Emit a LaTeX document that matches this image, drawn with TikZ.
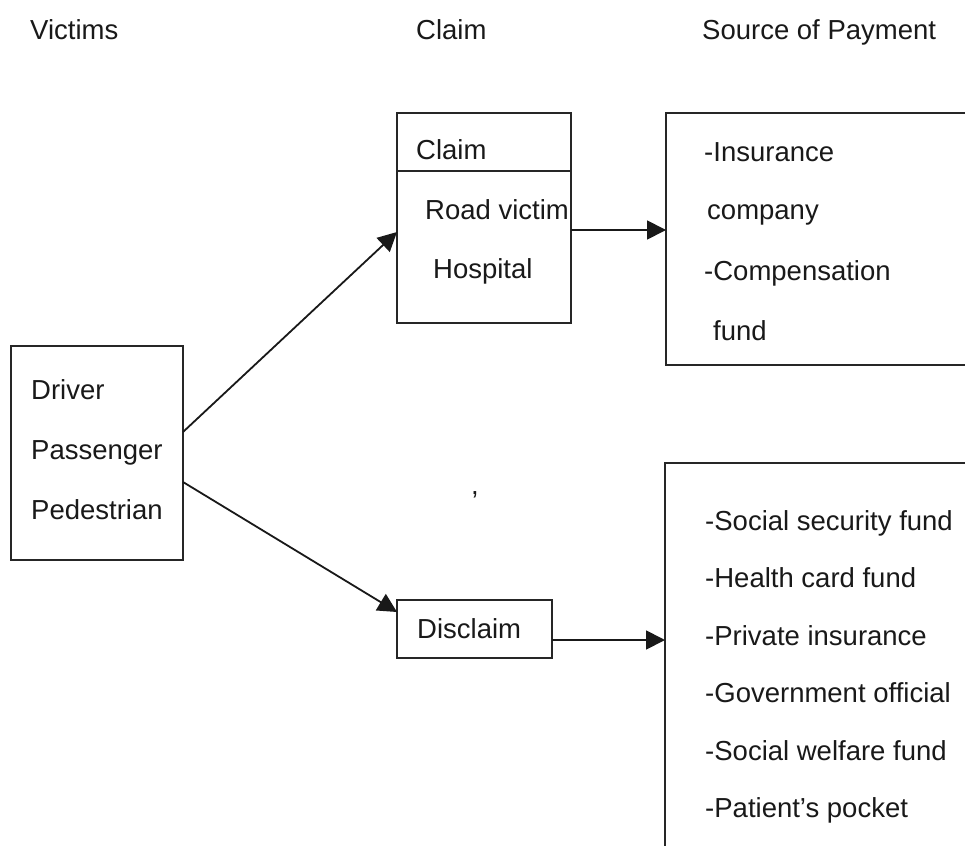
\documentclass[tikz,border=0pt]{standalone}
\usepackage{fontspec}
\setmainfont{Liberation Sans}
\usetikzlibrary{arrows.meta}

\begin{document}
\begin{tikzpicture}[x=1pt,y=-1pt,
    box/.style={draw=black!85,line width=1.4pt,inner sep=0pt,outer sep=0pt},
    txt/.style={anchor=base west,inner sep=0pt,text=black!90,font=\fontsize{27.5}{33}\selectfont},
    arr/.style={draw=black!90,line width=1.8pt,-{Triangle[length=19pt,width=19pt]}}]
  \useasboundingbox (0,0) rectangle (965,845);
  \clip (0,0) rectangle (965,845);
  \fill[white] (0,0) rectangle (965,845);

  \node[txt] (hvictims) at (30,40) {Victims};
  \node[txt] (hclaim) at (416,40) {Claim};
  \node[txt] (hsource) at (702,40) {Source of Payment};

  \node[box,minimum width=172pt,minimum height=214pt] (victims) at (97,453) {};
  \node[txt] (driver) at (31,399) {Driver};
  \node[txt] (passenger) at (31,459) {Passenger};
  \node[txt] (pedestrian) at (31,519) {Pedestrian};

  \node[box,minimum width=174pt,minimum height=210pt] (claimbox) at (484,218) {};
  \draw[box] (claimbox.west |- 0,171) -- (claimbox.east |- 0,171);
  \node[txt] (claimlabel) at (416,160) {Claim};
  \node[txt] (roadvictim) at (425,219) {Road victim};
  \node[txt] (hospital) at (433,278) {Hospital};

  \node[box,minimum width=155pt,minimum height=58pt] (disclaim) at (474.5,629) {};
  \node[txt] (disclaimlabel) at (417,638) {Disclaim};

  \node[box,minimum width=320pt,minimum height=252pt] (paytop) at (826,239) {};
  \node[txt] (insurance) at (704,161) {-Insurance};
  \node[txt] (company) at (707,219) {company};
  \node[txt] (compensation) at (704,280) {-Compensation};
  \node[txt] (fund) at (713,340) {fund};

  \node[box,minimum width=320pt,minimum height=407pt] (paybot) at (825,666.5) {};
  \node[txt] (social) at (705,530) {-Social security fund};
  \node[txt] (health) at (705,587) {-Health card fund};
  \node[txt] (private) at (705,645) {-Private insurance};
  \node[txt] (government) at (705,702) {-Government official};
  \node[txt] (welfare) at (705,760) {-Social welfare fund};
  \node[txt] (pocket) at (705,817) {-Patient's pocket};

  \node[txt] (speck) at (471,494) {,};

  \draw[arr] ([yshift=21pt]victims.east) -- ([yshift=-14pt]claimbox.west);
  \draw[arr] ([yshift=-29pt]victims.east) -- ([yshift=17pt]disclaim.west);
  \draw[arr] ([yshift=-12pt]claimbox.east) -- ([yshift=-12pt]claimbox.east -| paytop.west);
  \draw[arr] ([yshift=-11pt]disclaim.east) -- ([yshift=-11pt]disclaim.east -| paybot.west);
\end{tikzpicture}
\end{document}
